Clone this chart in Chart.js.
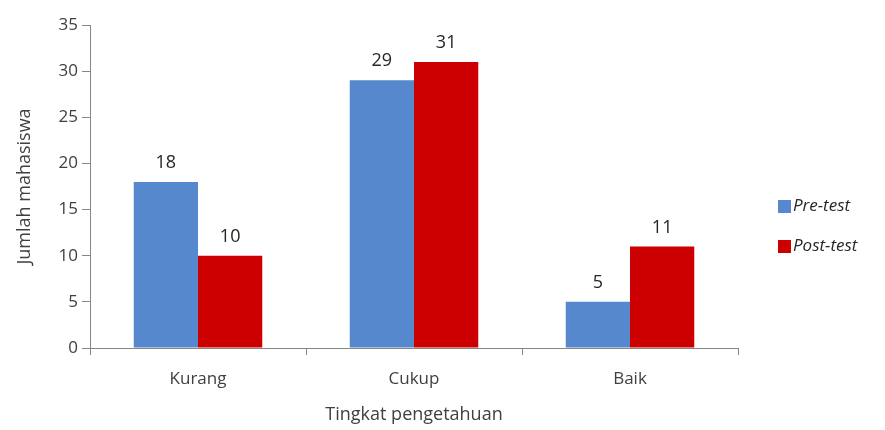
<!DOCTYPE html>
<html>
<head>
<meta charset="utf-8">
<script src="https://cdn.jsdelivr.net/npm/chart.js@4/dist/chart.umd.min.js"></script>
<style>
  html, body { margin: 0; padding: 0; background: #fff; }
  #wrap { width: 885px; height: 430px; position: relative; }
</style>
</head>
<body>
<div id="wrap"><canvas id="c"></canvas></div>
<script>
// data
const categories = ['Kurang', 'Cukup', 'Baik'];
const preTest = [18, 29, 5];
const postTest = [10, 31, 11];
const seriesNames = ['Pre-test', 'Post-test'];
const seriesColors = ['#5588CC', '#CC0000'];

const FONT = '"Open Sans", "Liberation Sans", sans-serif';
const axisGray = '#868686';
const textGray = '#404040';

// numbers above each bar
const valueLabels = {
  id: 'valueLabels',
  afterDatasetsDraw(chart) {
    const ctx = chart.ctx;
    ctx.save();
    ctx.font = '18px ' + FONT;
    ctx.fillStyle = '#262626';
    ctx.textAlign = 'center';
    ctx.textBaseline = 'bottom';
    chart.data.datasets.forEach(function (ds, i) {
      chart.getDatasetMeta(i).data.forEach(function (bar, j) {
        ctx.fillText(String(ds.data[j]), bar.x, bar.y - 10);
      });
    });
    ctx.restore();
  }
};

// legend on the right, italic names
const sideLegend = {
  id: 'sideLegend',
  afterDraw(chart) {
    const ctx = chart.ctx;
    const area = chart.chartArea;
    const x0 = area.right + 40;
    const yStart = 206;
    const gap = 40;
    ctx.save();
    ctx.font = 'italic 17px ' + FONT;
    ctx.textBaseline = 'middle';
    ctx.textAlign = 'left';
    seriesNames.forEach(function (name, i) {
      const y = yStart + i * gap;
      ctx.fillStyle = seriesColors[i];
      ctx.fillRect(x0, y - 6, 13, 13);
      ctx.fillStyle = '#262626';
      ctx.fillText(name, x0 + 15, y);
    });
    ctx.restore();
  }
};

new Chart(document.getElementById('c'), {
  type: 'bar',
  data: {
    labels: categories,
    datasets: [
      { label: seriesNames[0], data: preTest, backgroundColor: seriesColors[0] },
      { label: seriesNames[1], data: postTest, backgroundColor: seriesColors[1] }
    ]
  },
  options: {
    responsive: true,
    maintainAspectRatio: false,
    animation: false,
    layout: { padding: { left: 10, right: 147, top: 25, bottom: 0 } },
    datasets: { bar: { categoryPercentage: 0.595, barPercentage: 1 } },
    plugins: { legend: { display: false }, tooltip: { enabled: false } },
    scales: {
      x: {
        offset: true,
        grid: { offset: true, drawOnChartArea: false, drawTicks: true, tickLength: 7, color: axisGray, lineWidth: 1 },
        border: { display: true, color: axisGray, width: 1 },
        ticks: { color: textGray, font: { family: FONT, size: 17 }, padding: 14 },
        title: { display: true, text: 'Tingkat pengetahuan', color: textGray, font: { family: FONT, size: 18 }, padding: { top: 8 } },
        afterFit(scale) { scale.height = 82; }
      },
      y: {
        min: 0, max: 35,
        ticks: { stepSize: 5, color: textGray, font: { family: FONT, size: 17 }, padding: 4 },
        grid: { drawOnChartArea: false, drawTicks: true, tickLength: 8, color: axisGray, lineWidth: 1 },
        border: { display: true, color: axisGray, width: 1 },
        title: { display: true, text: 'Jumlah mahasiswa', color: textGray, font: { family: FONT, size: 18 }, padding: { bottom: 8 } },
        afterFit(scale) { scale.width = 80; }
      }
    }
  },
  plugins: [valueLabels, sideLegend]
});
</script>
</body>
</html>
